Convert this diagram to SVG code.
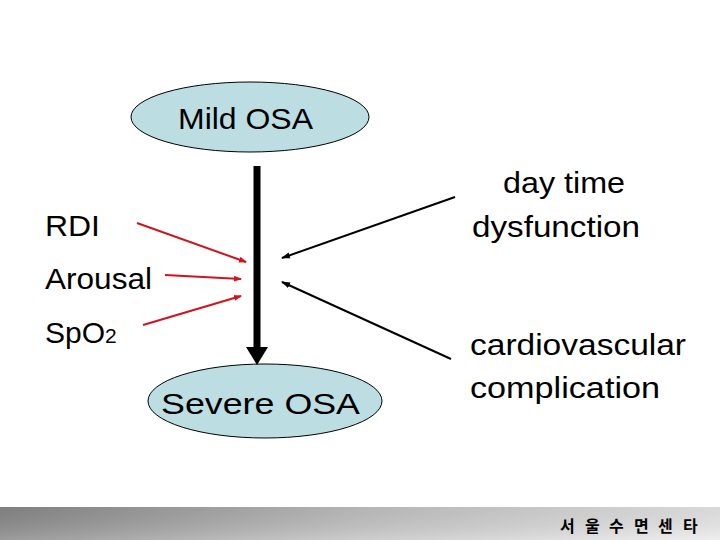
<svg xmlns="http://www.w3.org/2000/svg" width="720" height="540" viewBox="0 0 720 540">
<defs>
<style>
.t{font-family:"Liberation Sans",Arial,sans-serif;font-size:30px;fill:#000}
.node{fill:#BCDEE3;stroke:#000;stroke-width:1}
.red{stroke:#D0141E;stroke-width:2;fill:none;marker-end:url(#ahr)}
.blk{stroke:#000;stroke-width:2;fill:none;marker-end:url(#ahb)}
.kr{font-family:"Noto Sans CJK KR",sans-serif;font-size:16px;font-weight:bold;fill:#000}
</style>
<marker id="ahr" markerWidth="8" markerHeight="8" refX="7" refY="4" orient="auto" markerUnits="userSpaceOnUse">
<path d="M0,1 L8,4 L0,7 Z" fill="#D0141E"/>
</marker>
<marker id="ahb" markerWidth="9" markerHeight="8" refX="8" refY="4" orient="auto" markerUnits="userSpaceOnUse">
<path d="M0,1 L9,4 L0,7 Z" fill="#000"/>
</marker>
<linearGradient id="band" x1="0" y1="0" x2="1" y2="0">
<stop offset="0" stop-color="#8a8a8a"/>
<stop offset="0.5" stop-color="#c4c4c4"/>
<stop offset="1" stop-color="#ececec"/>
</linearGradient>
<linearGradient id="bandv" x1="0" y1="0" x2="0" y2="1">
<stop offset="0" stop-color="#000" stop-opacity="0.08"/>
<stop offset="1" stop-color="#fff" stop-opacity="0.15"/>
</linearGradient>
</defs>
<rect width="720" height="540" fill="#fff"/>
<rect x="0" y="507" width="720" height="33" fill="url(#band)"/>
<rect x="0" y="507" width="720" height="33" fill="url(#bandv)"/>
<text class="kr" x="560" y="532">서</text>
<text class="kr" x="585" y="532">울</text>
<text class="kr" x="609" y="532">수</text>
<text class="kr" x="634" y="532">면</text>
<text class="kr" x="658" y="532">센</text>
<text class="kr" x="683" y="532">타</text>

<g id="mild-osa">
<ellipse class="node" cx="250" cy="117" rx="119" ry="35"/>
<text class="t" x="178" y="129" textLength="135" lengthAdjust="spacingAndGlyphs">Mild OSA</text>
</g>
<g id="severe-osa">
<ellipse class="node" cx="265" cy="401" rx="117" ry="37"/>
<text class="t" x="161" y="414" textLength="199" lengthAdjust="spacingAndGlyphs">Severe OSA</text>
</g>
<g id="rdi"><text class="t" x="45" y="236" textLength="55" lengthAdjust="spacingAndGlyphs">RDI</text></g>
<g id="arousal"><text class="t" x="45" y="289" textLength="107" lengthAdjust="spacingAndGlyphs">Arousal</text></g>
<g id="spo2"><text class="t" x="45" y="343">SpO<tspan font-size="21">2</tspan></text></g>
<g id="daytime">
<text class="t" x="503" y="193" textLength="122" lengthAdjust="spacingAndGlyphs">day time</text>
<text class="t" x="472" y="237" textLength="168" lengthAdjust="spacingAndGlyphs">dysfunction</text>
</g>
<g id="cardio">
<text class="t" x="470" y="355" textLength="216" lengthAdjust="spacingAndGlyphs">cardiovascular</text>
<text class="t" x="470" y="398" textLength="190" lengthAdjust="spacingAndGlyphs">complication</text>
</g>

<g id="connectors">
<line x1="257" y1="166" x2="257" y2="348" stroke="#000" stroke-width="7"/>
<polygon points="246,347 268,347 257,365" fill="#000"/>
<line class="red" x1="137" y1="223" x2="246" y2="262"/>
<line class="red" x1="165" y1="275" x2="241" y2="279"/>
<line class="red" x1="143" y1="325" x2="241" y2="296"/>
<line class="blk" x1="455" y1="197" x2="282" y2="258"/>
<line class="blk" x1="451" y1="359" x2="282" y2="282"/>
</g>
</svg>
